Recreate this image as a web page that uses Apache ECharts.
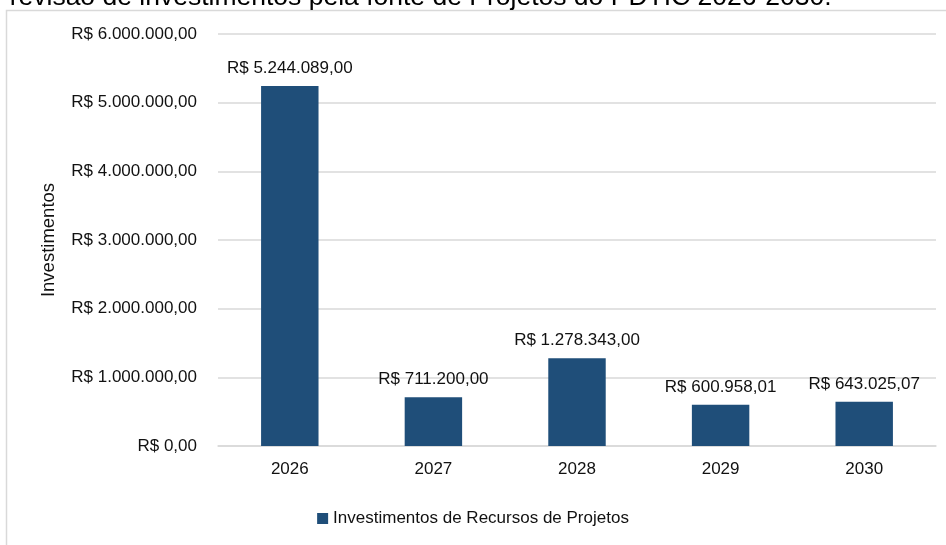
<!DOCTYPE html>
<html><head><meta charset="utf-8">
<script src="https://cdn.jsdelivr.net/npm/echarts@6/dist/echarts.min.js"></script>
<style>html,body{margin:0;padding:0;background:#fff}#c{width:946px;height:545px}</style>
</head><body><div id="c"></div>
<script>
const categories = ['2026','2027','2028','2029','2030'];
const values = [5244089.00, 711200.00, 1278343.00, 600958.01, 643025.07];
const seriesName = 'Investimentos de Recursos de Projetos';
const yAxisName = 'Investimentos';
const titleText = 'Previsão de investimentos pela fonte de Projetos do PDTIC 2026-2030.';

function brl(v){
  const parts = Number(v).toFixed(2).split('.');
  parts[0] = parts[0].replace(/\B(?=(\d{3})+(?!\d))/g, '.');
  return 'R$ ' + parts[0] + ',' + parts[1];
}
const FONT = 'Liberation Sans, Arial, sans-serif';
const chart = echarts.init(document.getElementById('c'));
chart.setOption({
  animation:false,
  textStyle:{fontFamily:FONT},
  graphic:[
    {type:'rect', shape:{x:6.5,y:10.5,width:1000,height:700}, style:{fill:'none', stroke:'#d9d9d9', lineWidth:1.5}},
    {type:'text', x:-8, y:11, style:{text:titleText, font:'26.5px Liberation Sans, Arial, sans-serif', fill:'#000', verticalAlign:'bottom'}}
  ],
  grid:{left:218, right:10, top:34, bottom:99, containLabel:false},
  legend:{bottom:13, left:'center', itemWidth:11, itemHeight:11, itemGap:4, icon:'rect',
    textStyle:{fontSize:17, color:'#111', fontFamily:FONT}, data:[seriesName]},
  xAxis:{type:'category', data:categories,
    axisLine:{lineStyle:{color:'#d9d9d9', width:1.5}}, axisTick:{show:false},
    axisLabel:{fontSize:17, color:'#111', margin:15}},
  yAxis:{type:'value', min:0, max:6000000, interval:1000000,
    name:yAxisName, nameLocation:'middle', nameRotate:90, nameGap:160,
    nameTextStyle:{fontSize:18.5, color:'#111'},
    axisLine:{show:false}, axisTick:{show:false},
    splitLine:{lineStyle:{color:'#d9d9d9', width:1.5}},
    axisLabel:{fontSize:17, color:'#111', margin:21, formatter:v=>brl(v)}},
  series:[{name:seriesName, type:'bar', data:values, barWidth:'40%',
    itemStyle:{color:'#1F4E79'},
    label:{show:true, position:'top', distance:9, fontSize:17, color:'#111', formatter:p=>brl(p.value)}}]
});
</script></body></html>
